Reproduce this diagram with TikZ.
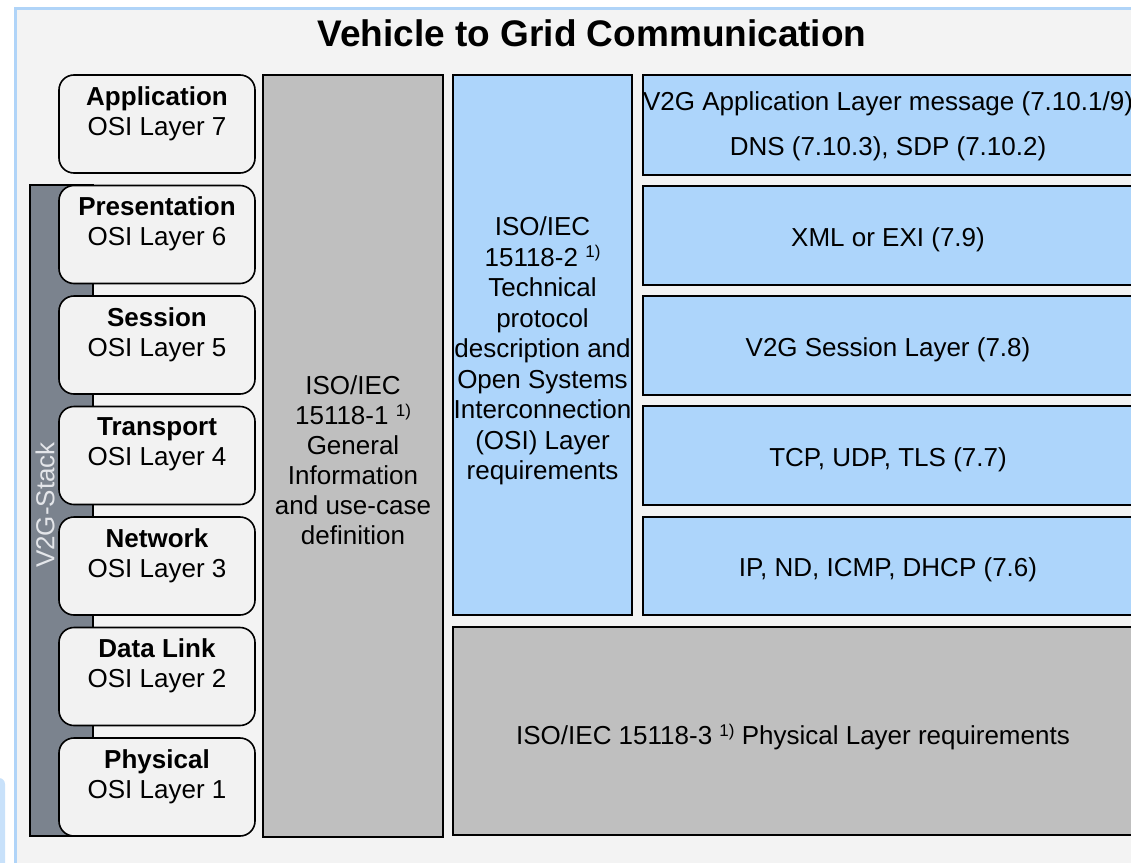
\documentclass[tikz,border=0pt]{standalone}
\usepackage{fontspec}
\setmainfont{Liberation Sans}
\definecolor{bgc}{HTML}{F3F3F3}
\definecolor{framec}{HTML}{B0D4F8}
\definecolor{osifill}{HTML}{F2F2F2}
\definecolor{greyfill}{HTML}{BFBFBF}
\definecolor{bluefill}{HTML}{ADD5FB}
\definecolor{stackfill}{HTML}{7B838E}
\definecolor{stacktext}{HTML}{E4E6EA}
\newcommand\fnmark{\raisebox{0.6ex}{\fontsize{17}{17}\selectfont 1)}}
\tikzset{
  x=1pt,y=-1pt,
  every node/.style={font=\fontsize{26}{30}\selectfont, inner sep=0pt, align=center},
  osibox/.style={draw=black, line width=1.6pt, fill=osifill, rounded corners=15pt, minimum width=196pt, minimum height=98pt},
  greybox/.style={draw=black, line width=1.6pt, fill=greyfill},
  bluebox/.style={draw=black, line width=1.6pt, fill=bluefill},
  osilabel/.style={font=\fontsize{26}{30}\selectfont, anchor=north},
  boxtext/.style={yshift=-4pt},
}
\begin{document}
\begin{tikzpicture}
\useasboundingbox (0,0) rectangle (1131,862);
\fill[white] (0,0) rectangle (1131,862);
\fill[framec!70] (-10,778) [rounded corners=6pt] -- (5,778) -- (5,880) [sharp corners] -- (-10,880) -- cycle;
\filldraw[fill=bgc, draw=framec, line width=3pt] (15,8) rectangle (1145,875);

% title
\node[font=\fontsize{37}{40}\selectfont\bfseries] (title) at (592,33) {Vehicle to Grid Communication};

% V2G stack bar
\node[draw=black, line width=1.2pt, fill=stackfill, minimum width=63pt, minimum height=651pt] (stack) at (61.5,510.5) {};
\node[rotate=90, text=stacktext] (stacklbl) at (45,505) {V2G-Stack};

% OSI layer boxes
\foreach \n/\t/\k/\y in {l7/Application/7/124, l6/Presentation/6/234.5, l5/Session/5/345, l4/Transport/4/455.5, l3/Network/3/566, l2/Data Link/2/676.5, l1/Physical/1/787}{
  \node[osibox] (\n) at (157,\y) {};
  \node[osilabel] (\n t) at ([yshift=-12pt]\n.north) {\textbf{\t}\\OSI Layer \k};
}

% ISO 15118-1
\node[greybox, minimum width=180pt, minimum height=762pt] (iso1) at (353,456) {};
\node (iso1t) at ([yshift=-4pt]iso1.center) {ISO/IEC\\15118-1 \fnmark\\General\\Information\\and use-case\\definition};

% ISO 15118-2
\node[bluebox, minimum width=179pt, minimum height=540pt] (iso2) at (542.5,345) {};
\node[font=\fontsize{26}{30.5}\selectfont] (iso2t) at ([yshift=-6pt]iso2.center) {ISO/IEC\\15118-2 \fnmark\\Technical\\protocol\\description and\\Open Systems\\Interconnection\\(OSI) Layer\\requirements};

% right layer boxes
\node[bluebox, minimum width=490pt, minimum height=100pt] (app) at (888,125) {};
\node[font=\fontsize{26}{45}\selectfont] (appt) at ([yshift=-1pt]app.center) {V2G Application Layer message (7.10.1/9)\\DNS (7.10.3), SDP (7.10.2)};
\node[bluebox, minimum width=490pt, minimum height=99pt] (pres) at (888,235.5) {};
\node (prest) at ([boxtext]pres.center) {XML or EXI (7.9)};
\node[bluebox, minimum width=490pt, minimum height=99pt] (sess) at (888,345.5) {};
\node (sesst) at ([boxtext]sess.center) {V2G Session Layer (7.8)};
\node[bluebox, minimum width=490pt, minimum height=99pt] (trans) at (888,455.5) {};
\node (transt) at ([boxtext]trans.center) {TCP, UDP, TLS (7.7)};
\node[bluebox, minimum width=490pt, minimum height=98pt] (net) at (888,566) {};
\node (nett) at ([boxtext]net.center) {IP, ND, ICMP, DHCP (7.6)};

% ISO 15118-3
\node[greybox, minimum width=690pt, minimum height=208pt] (iso3) at (798,731) {};
\node (iso3t) at (793,737) {ISO/IEC 15118-3 \fnmark\ Physical Layer requirements};
\end{tikzpicture}
\end{document}
